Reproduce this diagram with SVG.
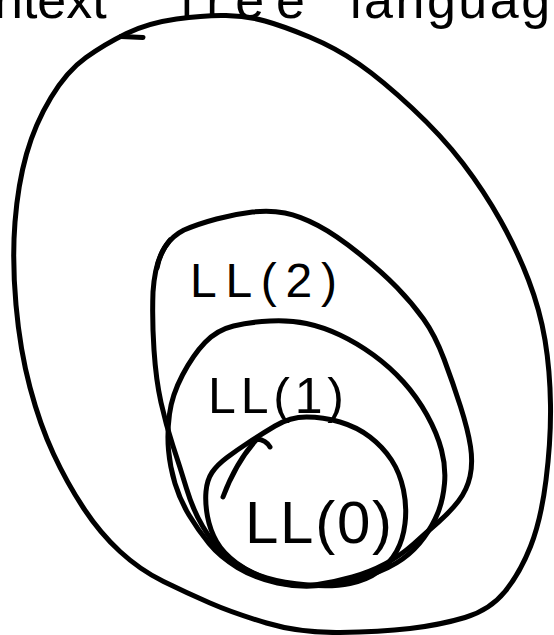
<svg xmlns="http://www.w3.org/2000/svg" width="554" height="635" viewBox="0 0 554 635">
<style>
.ln{fill:none;stroke:#000;stroke-width:5;stroke-linecap:round;stroke-linejoin:round}
.lbl{font-family:"Liberation Sans",Arial,sans-serif;fill:#000}
</style>
<rect width="554" height="635" fill="#fff"/>
<g id="context-free">
<path class="ln" d="M 126.5,33.5 Q 148,23 176.5,19 Q 205,15 226,15.5 Q 247,16 265,21 Q 283,26 309.5,37 Q 336,48 359,64 Q 382,80 412,108 Q 442,136 463,163.5 Q 484,191 500.5,220.5 Q 517,250 528.5,280 Q 540,310 545,340 Q 550,370 550.5,405 Q 551,440 546,480 Q 541,520 530.5,546.5 Q 520,573 505,591.5 Q 490,610 465,617.5 Q 440,625 410,628.5 Q 380,632 340,632.5 Q 300,633 266.5,623 Q 233,613 210,603 Q 187,593 163.5,581.5 Q 140,570 120,551.5 Q 100,533 83.5,508 Q 67,483 53.5,454 Q 40,425 30,387.5 Q 20,350 16,305 Q 12,260 15,222 Q 18,184 26.5,154 Q 35,124 51,97.5 Q 67,71 86,57.5 Q 105,44 126.5,33.5 Z"/>
<path class="ln" d="M 121,36.5 L 143,37.5"/>
<text class="lbl" font-size="52" y="18"><tspan x="-6">ntext</tspan><tspan x="180" textLength="125" lengthAdjust="spacing">free</tspan><tspan x="350" textLength="260" lengthAdjust="spacing">languages</tspan></text>
</g>
<g id="ll2">
<path class="ln" d="M 184,230 Q 198,224 216.5,219 Q 235,214 252.5,212 Q 270,210 285,213 Q 300,216 318,225.5 Q 336,235 359,253.5 Q 382,272 397,287.5 Q 412,303 423.5,319 Q 435,335 444,359 Q 453,383 460.5,406.5 Q 468,430 470.5,446.5 Q 473,463 470,476.5 Q 467,490 458.5,501 Q 450,512 438.5,522 Q 427,532 413.5,544 Q 400,556 385,564 Q 370,572 352.5,577 Q 335,582 317.5,584.5 Q 300,587 283.5,583.5 Q 267,580 250,571.5 Q 233,563 222.5,552.5 Q 212,542 202.5,526 Q 193,510 186.5,488.5 Q 180,467 173,446 Q 166,425 161,402.5 Q 156,380 154,350 Q 152,320 153,292 Q 155,262 165,247 Q 172,236 184,230 Z"/>
<path class="ln" d="M 170,240 Q 160,252 157,268"/>
<text class="lbl" font-size="48" x="190" y="297" textLength="147" lengthAdjust="spacing">LL(2)</text>
</g>
<g id="ll1">
<path class="ln" d="M 205,342.5 Q 217,330 233.5,326 Q 250,322 270,321 Q 290,320 306.5,323.5 Q 323,327 340,335 Q 357,343 373.5,355 Q 390,367 403.5,382 Q 417,397 427,415 Q 437,433 441.5,450 Q 446,467 444.5,483.5 Q 443,500 438,512.5 Q 433,525 424,537.5 Q 415,550 402.5,559 Q 390,568 370,575 Q 350,582 325,585 Q 300,588 277.5,583 Q 255,578 237.5,567.5 Q 220,557 209,543.5 Q 198,530 189,515 Q 180,500 175,483.5 Q 170,467 168.5,450 Q 167,433 169.5,414 Q 172,395 182.5,375 Q 193,355 205,342.5 Z"/>
<text class="lbl" font-size="50" x="208" y="413" textLength="136" lengthAdjust="spacing">LL(1)</text>
</g>
<g id="ll0">
<path class="ln" d="M 275,426 Q 290,417 306.5,417 Q 323,417 340,422 Q 357,427 370,437 Q 383,447 391.5,460 Q 400,473 403.5,490 Q 407,507 405,523.5 Q 403,540 396.5,551.5 Q 390,563 378.5,571.5 Q 367,580 350,583.5 Q 333,587 308,585 Q 283,583 266.5,578 Q 250,573 236.5,563 Q 223,553 216.5,541.5 Q 210,530 207.5,516.5 Q 205,503 206,491.5 Q 207,480 212,472.5 Q 217,465 227,457.5 Q 237,450 248.5,442.5 Q 260,435 275,426 Z"/>
<path class="ln" d="M 270,447 Q 266,440 257,439 Q 236,462 223,497"/>
<text class="lbl" font-size="60" x="245" y="543" textLength="147" lengthAdjust="spacing">LL(0)</text>
</g>
<g id="connectors"/>
</svg>
